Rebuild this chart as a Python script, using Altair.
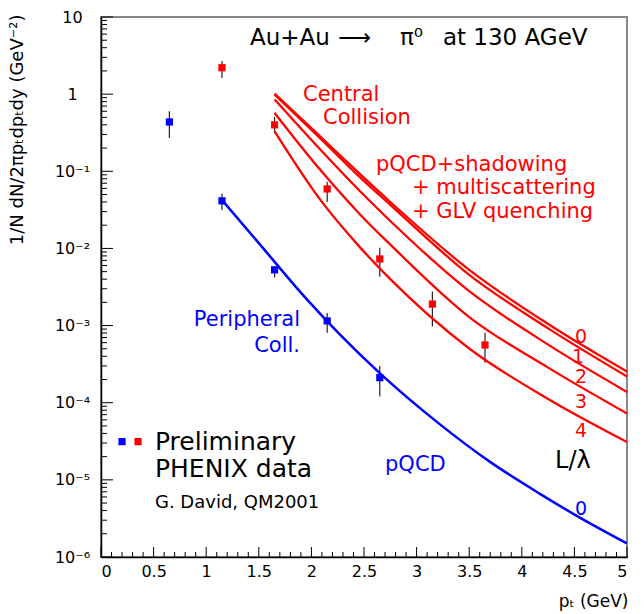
import altair as alt
import pandas as pd

# ---------------- data ----------------
# PHENIX preliminary points (peripheral = blue, central = red)
pt_blue_pts = [0.65, 1.15, 1.65, 2.15, 2.65]
blue_val = [0.436, 0.0414, 0.00528, 0.00115, 0.000211]
blue_lo = [0.27, 0.0316, 0.0042, 0.00081, 0.00012]
blue_hi = [0.60, 0.051, 0.0058, 0.00146, 0.00030]

pt_red_pts = [1.15, 1.65, 2.15, 2.65, 3.15, 3.65]
red_val = [2.2, 0.40, 0.059, 0.0073, 0.0019, 0.00056]
red_lo = [1.62, 0.315, 0.040, 0.0043, 0.00097, 0.00033]
red_hi = [2.69, 0.507, 0.073, 0.0102, 0.00277, 0.00081]

# theory curves, central: L/lambda = 0..4
pt_red_curve = [1.65, 2.08, 2.46, 2.75, 3.5, 4.25, 5.0]
red_L0 = [1.02, 0.285, 0.0925, 0.0400, 0.00528, 0.00105, 2.54e-4]
red_L1 = [0.99, 0.271, 0.084, 0.0367, 0.00455, 0.00092, 2.19e-4]
red_L2 = [0.853, 0.194, 0.0555, 0.0227, 0.0028, 0.000566, 1.38e-4]
red_L3 = [0.571, 0.106, 0.0278, 0.0112, 0.00129, 0.000285, 7.26e-5]
red_L4 = [0.329, 0.0435, 0.0104, 0.0040, 0.000505, 0.000112, 3.1e-5]

# theory curve, peripheral (pQCD)
pt_blue_curve = [1.157, 1.5, 1.955, 2.272, 2.652, 3.222, 3.698, 4.173, 4.489, 5.0]
blue_curve = [0.0414, 0.01172, 0.0022, 7.62e-4, 2.40e-4, 5.24e-5, 1.71e-5, 6.59e-6, 3.63e-6, 1.50e-6]

# axis ticks
x_major = [i * 0.5 for i in range(11)]
x_minor = [i / 10 for i in range(51) if i % 5]
y_major = [1e-6, 1e-5, 1e-4, 1e-3, 1e-2, 1e-1, 1, 10]
y_major_labels = ["10⁻⁶", "10⁻⁵", "10⁻⁴", "10⁻³", "10⁻²", "10⁻¹", "1", "10"]
y_minor = [k * 10.0 ** e for e in range(-6, 1) for k in range(2, 10)]

# annotations (text, x, y, colour, font size)
ann_left = [
    ("Au+Au", 1.416, 5.35, "black", 23),
    ("⟶", 2.253, 5.35, "black", 23),
    ("π⁰", 2.842, 5.35, "black", 23),
    ("at 130 AGeV", 3.25, 5.35, "black", 23),
    ("Central", 1.92, 0.976, "red", 21),
    ("Collision", 2.11, 0.492, "red", 21),
    ("pQCD+shadowing", 2.614, 0.121, "red", 21),
    ("+ multiscattering", 2.956, 0.061, "red", 21),
    ("+ GLV quenching", 2.956, 0.0298, "red", 21),
    ("pQCD", 2.70, 1.57e-5, "blue", 21),
    ("L/λ", 4.316, 1.77e-5, "black", 24),
    ("Preliminary", 0.513, 3.13e-5, "black", 25),
    ("PHENIX data", 0.513, 1.4e-5, "black", 25),
    ("G. David, QM2001", 0.513, 5.07e-6, "black", 18),
]
ann_right = [
    ("Peripheral", 1.892, 0.00119, "blue", 21),
    ("Coll.", 1.892, 5.47e-4, "blue", 21),
]
ann_center = [
    ("0", 4.563, 7.16e-4, "red", 19),
    ("1", 4.534, 3.94e-4, "red", 19),
    ("2", 4.563, 2.17e-4, "red", 19),
    ("3", 4.563, 1.03e-4, "red", 19),
    ("4", 4.563, 4.34e-5, "red", 19),
    ("0", 4.563, 4.24e-6, "blue", 19),
]
legend_marks = [(0.20, 3.13e-5, "blue"), (0.352, 3.13e-5, "red")]

# ---------------- tables ----------------
FONT = "DejaVu Sans"
W, H = 526, 540

pts = pd.DataFrame({
    "x": pt_blue_pts + pt_red_pts,
    "y": blue_val + red_val,
    "lo": blue_lo + red_lo,
    "hi": blue_hi + red_hi,
    "c": ["blue"] * len(pt_blue_pts) + ["red"] * len(pt_red_pts),
})
rows = []
for name, ys_ in zip(["0", "1", "2", "3", "4"], [red_L0, red_L1, red_L2, red_L3, red_L4]):
    for x, y in zip(pt_red_curve, ys_):
        rows.append({"x": x, "y": y, "curve": name})
red_df = pd.DataFrame(rows)
blue_df = pd.DataFrame({"x": pt_blue_curve, "y": blue_curve})
leg_df = pd.DataFrame(legend_marks, columns=["x", "y", "c"])


def ann_df(lst):
    return pd.DataFrame(lst, columns=["t", "x", "y", "c", "s"])


xs = alt.Scale(domain=[0, 5], nice=False, zero=False)
ys = alt.Scale(type="log", domain=[1e-6, 10], nice=False)

# label expression for log axis
expr = ""
for v, lab in zip(y_major, y_major_labels):
    expr += f"datum.value < {v * 3.1622} ? '{lab}' : "
expr += "''"

axis_x_lab = alt.Axis(
    orient="bottom", values=x_major, ticks=False, grid=False, domainColor="black",
    domainWidth=1.5, labelFont=FONT, labelFontSize=16, labelPadding=6, format="~g",
    labelOverlap=False, labelColor="black",
    title="pₜ (GeV)", titleFont=FONT, titleFontSize=17, titleFontWeight="normal",
    titleX=527, titleY=44, titleAlign="right", titleBaseline="middle", titleColor="black",
)
axis_y_lab = alt.Axis(
    orient="left", values=y_major, ticks=False, grid=False, domainColor="black",
    domainWidth=1.5, labelFont=FONT, labelFontSize=16, labelPadding=29,
    labelAlign="center", labelBaseline="middle", labelExpr=expr, labelOverlap=False,
    labelColor="black",
    title="1/N dN/2πpₜdpₜdy (GeV⁻²)", titleFont=FONT, titleFontSize=18,
    titleFontWeight="normal", titleX=-84, titleY=-3, titleAlign="right",
    titleAngle=270, titleBaseline="middle", titleColor="black",
)


def X(field):
    return alt.X(field, scale=xs, axis=axis_x_lab)


def Y(field):
    return alt.Y(field, scale=ys, axis=axis_y_lab)


# inward-pointing frame ticks (positions from the tick value lists, through the scales)
def xticks(vals, length):
    return alt.Chart(pd.DataFrame({"x": vals})).mark_rule(color="black", strokeWidth=1).encode(
        x=X("x:Q"), y=alt.value(H), y2=alt.value(H - length))


def yticks(vals, length):
    return alt.Chart(pd.DataFrame({"y": vals})).mark_rule(color="black", strokeWidth=1).encode(
        y=Y("y:Q"), x=alt.value(0), x2=alt.value(length))


err = alt.Chart(pts).mark_rule(color="#222", strokeWidth=1.2).encode(
    x=X("x:Q"), y=Y("lo:Q"), y2="hi:Q",
)
red_lines = alt.Chart(red_df).mark_line(color="red", strokeWidth=2.3, interpolate="monotone").encode(
    x=X("x:Q"), y=Y("y:Q"), detail="curve:N",
)
blue_line = alt.Chart(blue_df).mark_line(color="blue", strokeWidth=2.5, interpolate="monotone").encode(
    x=X("x:Q"), y=Y("y:Q"),
)
squares = alt.Chart(pts).mark_square(size=52, opacity=1).encode(
    x=X("x:Q"), y=Y("y:Q"), color=alt.Color("c:N", scale=None),
)
leg = alt.Chart(leg_df).mark_square(size=52, opacity=1).encode(
    x=X("x:Q"), y=Y("y:Q"), color=alt.Color("c:N", scale=None),
)


def text_layer(lst, align):
    return alt.Chart(ann_df(lst)).mark_text(align=align, baseline="middle", font=FONT).encode(
        x=X("x:Q"), y=Y("y:Q"),
        text="t:N",
        color=alt.Color("c:N", scale=None),
        size=alt.Size("s:Q", scale=None),
    )


chart = alt.layer(
    err,
    xticks(x_major, 10), xticks(x_minor, 5), yticks(y_major, 12), yticks(y_minor, 6),
    red_lines, blue_line, squares, leg,
    text_layer(ann_left, "left"), text_layer(ann_right, "right"), text_layer(ann_center, "center"),
).properties(
    width=W, height=H,
    autosize=alt.AutoSizeParams(type="none"),
    padding={"left": 101, "top": 17, "right": 17, "bottom": 57},
    background="white",
).configure_view(stroke="#888888", strokeWidth=2)

chart.save("out.html", embed_options={"renderer": "svg", "actions": False})
